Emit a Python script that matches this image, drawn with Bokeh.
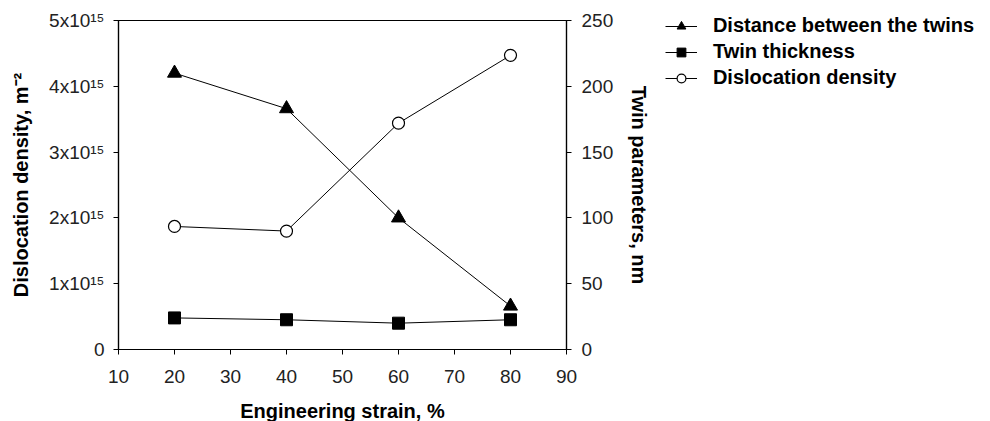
from bokeh.plotting import figure
from bokeh.models import LinearAxis, Range1d, Legend, LegendItem, FixedTicker
from bokeh.embed import file_html
from bokeh.resources import INLINE

strain = [20, 40, 60, 80]
distance_nm = [210, 183, 100, 33]
thickness_nm = [24, 22.6, 20, 22.6]
disl_density_1e15 = [1.87, 1.80, 3.44, 4.47]

x_ticks = [10, 20, 30, 40, 50, 60, 70, 80, 90]
left_ticks = [0, 1, 2, 3, 4, 5]
left_tick_labels = ["0", "1x10¹⁵", "2x10¹⁵", "3x10¹⁵", "4x10¹⁵", "5x10¹⁵"]
right_ticks = [0, 50, 100, 150, 200, 250]

FONT = "Liberation Sans"

p = figure(frame_width=448, frame_height=329, x_range=Range1d(10, 90), y_range=Range1d(0, 5),
           output_backend="svg", toolbar_location=None,
           min_border_left=118, min_border_top=20, min_border_right=10, min_border_bottom=70)
p.extra_y_ranges = {"twin": Range1d(0, 250)}
p.grid.visible = False
p.outline_line_color = "black"
p.outline_line_width = 1.2
p.background_fill_color = "white"
p.border_fill_color = "white"

def style_axis(ax):
    ax.axis_line_color = "black"
    ax.axis_line_width = 1.2
    ax.major_tick_line_color = "black"
    ax.major_tick_line_width = 1
    ax.major_tick_in = 0
    ax.major_tick_out = 5
    ax.minor_tick_line_color = None
    ax.major_label_text_font = FONT
    ax.major_label_text_font_size = "19px"
    ax.major_label_text_color = "#222222"
    ax.axis_label_text_font = FONT
    ax.axis_label_text_font_size = "20px"
    ax.axis_label_text_font_style = "bold"
    ax.axis_label_text_color = "black"

xa = p.xaxis[0]
style_axis(xa)
xa.ticker = FixedTicker(ticks=x_ticks)
xa.axis_label = "Engineering strain, %"
xa.major_label_standoff = 15
xa.axis_label_standoff = 14

ya = p.yaxis[0]
style_axis(ya)
ya.ticker = FixedTicker(ticks=left_ticks)
ya.major_label_overrides = {t: lab for t, lab in zip(left_ticks, left_tick_labels)}
ya.axis_label = "Dislocation density, m⁻²"
ya.major_label_standoff = 9
ya.axis_label_standoff = 14

ra = LinearAxis(y_range_name="twin")
style_axis(ra)
ra.ticker = FixedTicker(ticks=right_ticks)
ra.axis_label = "Twin parameters, nm"
ra.major_label_standoff = 10
ra.axis_label_standoff = 12
p.add_layout(ra, "right")

l1 = p.line(strain, distance_nm, y_range_name="twin", line_color="black", line_width=1)
s1 = p.scatter(strain, distance_nm, y_range_name="twin", marker="triangle", size=14,
               fill_color="black", line_color="black")
l2 = p.line(strain, thickness_nm, y_range_name="twin", line_color="black", line_width=1)
s2 = p.scatter(strain, thickness_nm, y_range_name="twin", marker="square", size=12,
               fill_color="black", line_color="black")
l3 = p.line(strain, disl_density_1e15, line_color="black", line_width=1)
s3 = p.scatter(strain, disl_density_1e15, marker="circle", size=12,
               fill_color="white", line_color="black", line_width=1.2)

legend = Legend(items=[
    LegendItem(label="Distance between the twins", renderers=[l1, s1]),
    LegendItem(label="Twin thickness", renderers=[l2, s2]),
    LegendItem(label="Dislocation density", renderers=[l3, s3]),
], location=(-222, 260))
legend.label_text_font = FONT
legend.label_text_font_size = "20px"
legend.label_text_font_style = "bold"
legend.label_text_color = "black"
legend.glyph_width = 32
legend.glyph_height = 22
legend.label_height = 22
legend.label_standoff = 16
legend.spacing = 3
legend.padding = 0
legend.margin = 0
legend.border_line_color = None
legend.background_fill_alpha = 0
p.add_layout(legend, "right")

open("out.html", "w").write(file_html(p, INLINE))
